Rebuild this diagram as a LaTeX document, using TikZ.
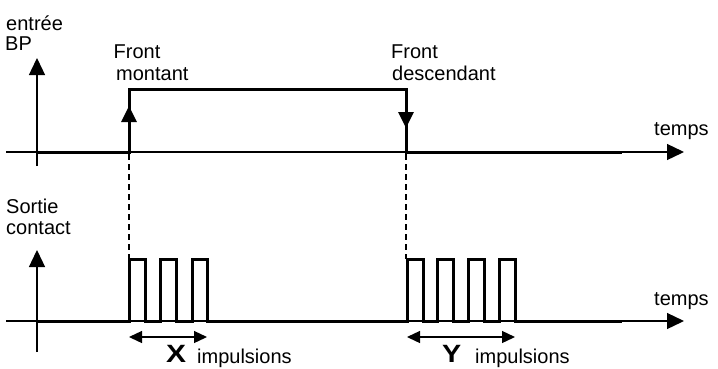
\documentclass[tikz,border=0pt]{standalone}
\usepackage{fontspec}
\setmainfont{Liberation Sans}
\usetikzlibrary{arrows.meta}
\begin{document}
\begin{tikzpicture}[x=1pt,y=-1pt,
  axis/.style={line width=1.3pt,-{Triangle[length=17pt,width=16pt]}},
  sig/.style={line width=3pt,line join=miter},
  edgearrow/.style={line width=3pt,-{Triangle[length=16pt,width=15pt]}},
  dbl/.style={line width=1.3pt,{Triangle[length=13pt,width=12pt]}-{Triangle[length=13pt,width=12pt]}},
  guide/.style={line width=1.2pt,dash pattern=on 6pt off 4pt},
  lbl/.style={anchor=base west,inner sep=0pt,font=\fontsize{20pt}{22pt}\selectfont},
  big/.style={anchor=base west,inner sep=0pt,font=\fontsize{25pt}{27pt}\selectfont\bfseries}]
\useasboundingbox (0,0) rectangle (718,368);
% coordinates
\coordinate (tA0) at (6,152);
\coordinate (tAe) at (684,152);
\coordinate (tV0) at (37,166);
\coordinate (tVe) at (37,58);
\coordinate (bA0) at (6,321);
\coordinate (bAe) at (684,321);
\coordinate (bV0) at (37,352);
\coordinate (bVe) at (37,250);
% axes
\draw[axis] (tA0) -- (tAe);
\draw[axis] (tV0) -- (tVe);
\draw[axis] (bA0) -- (bAe);
\draw[axis] (bV0) -- (bVe);
% top signal
\coordinate (s0) at (37,152);
\coordinate (s1) at (129,152);
\coordinate (s2) at (129,89);
\coordinate (s3) at (406,89);
\coordinate (s4) at (406,152);
\coordinate (s5) at (622,152);
\draw[sig] (s0) -- (s1) -- (s2) -- (s3) -- (s4) -- (s5);
\coordinate (r0) at (129,135);
\coordinate (r1) at (129,106);
\draw[edgearrow] (r0) -- (r1);
\coordinate (f0) at (406,100);
\coordinate (f1) at (406,128);
\draw[edgearrow] (f0) -- (f1);
% guides
\coordinate (g1a) at (129,154);
\coordinate (g1b) at (129,259);
\coordinate (g2a) at (406,154);
\coordinate (g2b) at (406,259);
\draw[guide] (g1a) -- (g1b);
\draw[guide] (g2a) -- (g2b);
% bottom signal
\draw[sig] (37,321) -- (129,321)
  -- (129,259) -- (145,259) -- (145,321) -- (160,321)
  -- (160,259) -- (176,259) -- (176,321) -- (192,321)
  -- (192,259) -- (207,259) -- (207,321) -- (407,321)
  -- (407,259) -- (423,259) -- (423,321) -- (437,321)
  -- (437,259) -- (453,259) -- (453,321) -- (468,321)
  -- (468,259) -- (484,259) -- (484,321) -- (499,321)
  -- (499,259) -- (515,259) -- (515,321) -- (622,321);
% double arrows
\coordinate (xa) at (129,337);
\coordinate (xb) at (207,337);
\coordinate (ya) at (407,337);
\coordinate (yb) at (515,337);
\draw[dbl] (xa) -- (xb);
\draw[dbl] (ya) -- (yb);
% labels
\node[lbl] (l1) at (6,30) {entrée};
\node[lbl] (l2) at (5,50) {BP};
\node[lbl] (l3) at (113.5,58) {Front};
\node[lbl] (l4) at (116,80) {montant};
\node[lbl] (l5) at (391,58) {Front};
\node[lbl] (l6) at (392,80) {descendant};
\node[lbl] (l7) at (654,135) {temps};
\node[lbl] (l8) at (6,213) {Sortie};
\node[lbl] (l9) at (6,234) {contact};
\node[lbl] (l10) at (654,305) {temps};
\node[big] (x) at (166,362.5) {\scalebox{1.2}[1]{X}};
\node[lbl] (l11) at (197,363) {impulsions};
\node[big] (y) at (442,362.5) {\scalebox{1.15}[1]{Y}};
\node[lbl] (l12) at (475,363) {impulsions};
\end{tikzpicture}
\end{document}
